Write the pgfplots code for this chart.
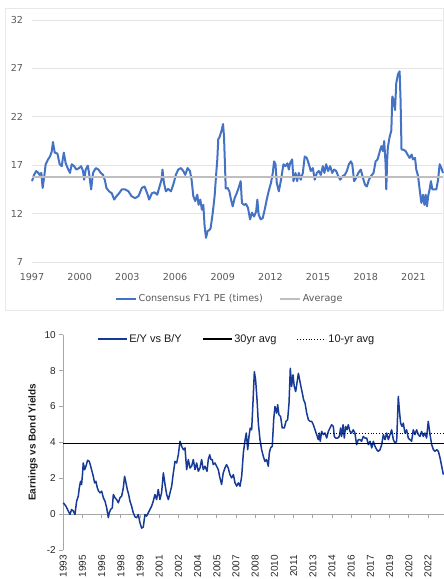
\documentclass[border=0pt]{standalone}
\usepackage{pgfplots}
\pgfplotsset{compat=1.18}
\usepackage{fontspec}
\setmainfont{Liberation Sans}
\newfontfamily\topfont{DejaVu Sans}
\definecolor{pe}{HTML}{4472C4}
\definecolor{avgc}{HTML}{BFBFBF}
\definecolor{gridc}{HTML}{E4E4E4}
\definecolor{txt}{HTML}{595959}
\definecolor{ey}{HTML}{173A96}
\definecolor{axc}{HTML}{A6A6A6}

\pgfplotstableread{
x y
1997.00 15.35
1997.13 16.0
1997.27 16.4
1997.40 16.2
1997.48 16.0
1997.59 16.2
1997.67 14.65
1997.76 15.7
1997.86 17.1
1998.01 17.6
1998.13 17.9
1998.24 18.4
1998.32 19.4
1998.43 18.3
1998.60 18.2
1998.74 17.1
1998.87 16.9
1999.00 18.3
1999.12 17.2
1999.27 16.6
1999.39 16.2
1999.50 17.1
1999.65 16.9
1999.79 16.55
1999.96 16.7
2000.09 16.9
2000.21 16.4
2000.28 15.5
2000.38 16.55
2000.51 16.95
2000.59 16.2
2000.72 14.5
2000.84 16.2
2001.01 16.7
2001.18 16.55
2001.33 16.2
2001.47 16.0
2001.60 15.35
2001.68 14.65
2001.85 14.3
2002.02 14.1
2002.17 13.45
2002.32 13.8
2002.48 14.1
2002.65 14.5
2002.86 14.5
2003.07 14.3
2003.26 13.8
2003.49 13.6
2003.70 13.8
2003.91 14.65
2004.08 14.8
2004.25 14.1
2004.37 13.45
2004.54 14.1
2004.71 14.2
2004.88 13.95
2005.00 14.65
2005.15 15.5
2005.21 16.55
2005.30 15.2
2005.42 14.3
2005.57 14.55
2005.74 14.3
2005.89 15.0
2006.05 16.0
2006.20 16.55
2006.37 16.7
2006.52 16.4
2006.64 16.0
2006.79 16.7
2006.94 16.4
2007.04 15.5
2007.15 13.8
2007.27 13.3
2007.40 13.95
2007.48 12.9
2007.59 13.45
2007.69 12.4
2007.78 12.9
2007.86 10.7
2007.95 9.5
2008.05 10.2
2008.16 10.3
2008.24 10.5
2008.37 12.05
2008.49 13.8
2008.58 15.9
2008.66 17.6
2008.72 19.7
2008.80 19.9
2008.93 20.6
2009.02 21.25
2009.08 20.0
2009.13 17.6
2009.19 14.6
2009.31 14.65
2009.42 14.3
2009.52 13.45
2009.63 12.75
2009.75 13.6
2009.88 14.1
2010.00 14.65
2010.13 15.35
2010.21 13.1
2010.34 12.9
2010.47 13.0
2010.59 12.6
2010.72 11.4
2010.84 12.1
2010.97 11.7
2011.10 12.2
2011.18 13.45
2011.26 11.9
2011.39 11.4
2011.52 11.55
2011.64 12.4
2011.77 13.45
2011.89 14.3
2012.04 15.2
2012.15 16.2
2012.23 17.4
2012.32 17.1
2012.40 15.2
2012.53 14.3
2012.67 15.5
2012.82 17.1
2012.95 16.9
2013.07 17.2
2013.16 16.55
2013.24 17.2
2013.37 17.6
2013.45 15.35
2013.58 16.2
2013.68 15.35
2013.79 16.2
2013.91 15.5
2014.04 16.2
2014.16 17.9
2014.29 17.75
2014.42 17.1
2014.54 16.4
2014.67 16.7
2014.79 15.5
2014.92 16.2
2015.05 16.4
2015.17 16.0
2015.30 16.9
2015.40 16.2
2015.51 17.1
2015.63 16.4
2015.76 16.9
2015.89 16.2
2016.01 16.55
2016.14 16.4
2016.26 15.9
2016.39 15.5
2016.56 15.9
2016.68 16.0
2016.81 16.4
2016.94 17.1
2017.06 17.4
2017.15 17.1
2017.27 15.35
2017.40 15.7
2017.53 16.2
2017.69 16.55
2017.82 15.7
2017.95 15.0
2018.07 14.8
2018.20 15.5
2018.34 15.9
2018.49 16.2
2018.62 17.4
2018.74 17.6
2018.83 18.1
2018.91 18.6
2018.99 18.97
2019.08 18.45
2019.16 19.5
2019.25 17.1
2019.29 14.5
2019.35 17.6
2019.39 18.85
2019.50 19.9
2019.61 20.6
2019.67 24.1
2019.75 23.75
2019.84 22.7
2019.92 25.5
2020.03 26.4
2020.13 26.7
2020.19 23.75
2020.25 18.6
2020.38 18.6
2020.51 18.45
2020.63 18.1
2020.76 17.75
2020.89 18.1
2020.97 17.6
2021.10 17.75
2021.18 16.55
2021.29 15.9
2021.39 14.5
2021.50 13.1
2021.60 13.95
2021.69 12.9
2021.77 13.95
2021.85 12.75
2021.94 13.95
2022.02 14.5
2022.10 15.35
2022.19 14.5
2022.31 14.5
2022.44 14.5
2022.55 15.5
2022.65 17.1
2022.76 16.7
2022.86 16.2
}\petable

\pgfplotstableread{
x y
1993.75 0.63
1993.96 0.44
1994.14 0.17
1994.27 -0.02
1994.40 0.26
1994.53 0.17
1994.66 -0.02
1994.79 0.72
1994.92 1.0
1995.00 1.46
1995.10 1.83
1995.18 1.65
1995.26 2.3
1995.31 2.85
1995.42 2.48
1995.52 2.67
1995.65 3.0
1995.78 2.94
1995.89 2.67
1995.99 2.39
1996.09 2.11
1996.20 1.74
1996.30 1.83
1996.41 1.46
1996.51 1.28
1996.62 1.19
1996.75 1.28
1996.88 0.91
1997.01 0.72
1997.14 0.35
1997.27 -0.2
1997.34 0.07
1997.45 0.26
1997.58 0.35
1997.66 1.09
1997.79 0.91
1997.92 0.81
1998.05 0.63
1998.18 0.91
1998.31 1.0
1998.44 1.46
1998.54 2.11
1998.65 1.74
1998.75 1.37
1998.86 1.09
1998.96 0.72
1999.09 0.44
1999.22 0.07
1999.35 -0.15
1999.48 -0.2
1999.61 -0.02
1999.74 -0.48
1999.87 -0.78
2000.00 -0.72
2000.13 -0.02
2000.26 -0.11
2000.39 0.07
2000.52 0.26
2000.65 0.44
2000.78 0.72
2000.91 1.09
2001.04 0.81
2001.17 1.37
2001.30 0.81
2001.43 1.19
2001.57 2.3
2001.70 1.65
2001.83 1.09
2001.96 0.81
2002.09 1.19
2002.22 1.56
2002.35 2.3
2002.48 2.94
2002.61 2.85
2002.74 3.31
2002.87 4.06
2003.00 3.78
2003.13 3.59
2003.26 3.69
2003.39 2.48
2003.52 3.04
2003.65 2.57
2003.78 2.67
2003.91 3.04
2004.04 2.48
2004.17 2.85
2004.30 2.39
2004.43 2.57
2004.56 3.04
2004.69 2.48
2004.82 2.67
2004.98 2.39
2005.08 3.04
2005.19 3.31
2005.29 3.04
2005.39 3.04
2005.47 2.76
2005.60 2.85
2005.73 2.67
2005.86 2.48
2005.99 2.02
2006.12 1.65
2006.25 2.3
2006.38 2.57
2006.51 2.76
2006.64 2.57
2006.77 2.2
2006.90 2.02
2007.04 2.2
2007.17 1.74
2007.30 1.56
2007.43 1.74
2007.56 1.56
2007.69 2.11
2007.82 3.41
2007.95 4.11
2008.05 4.52
2008.16 3.59
2008.26 4.33
2008.36 4.8
2008.47 4.7
2008.57 6.19
2008.68 7.94
2008.78 7.48
2008.89 6.37
2008.99 5.07
2009.12 4.15
2009.25 3.59
2009.38 3.22
2009.51 2.94
2009.64 3.04
2009.77 2.67
2009.85 3.41
2009.95 3.69
2010.08 3.78
2010.19 5.26
2010.29 6.0
2010.42 5.63
2010.50 6.1
2010.60 5.54
2010.73 5.44
2010.86 4.8
2011.02 4.8
2011.15 5.17
2011.28 5.26
2011.39 6.19
2011.49 8.13
2011.59 7.11
2011.70 7.76
2011.80 7.11
2011.91 6.83
2012.01 7.3
2012.12 7.85
2012.22 7.48
2012.32 7.11
2012.43 6.74
2012.53 6.37
2012.64 6.19
2012.77 5.63
2012.90 5.26
2013.03 5.17
2013.16 5.17
2013.29 4.98
2013.42 4.7
2013.55 4.43
2013.68 4.15
2013.76 4.52
2013.83 4.06
2013.94 4.61
2014.07 4.43
2014.20 4.52
2014.33 4.24
2014.46 4.61
2014.59 4.8
2014.72 4.98
2014.85 4.89
2014.93 4.33
2015.03 4.24
2015.19 4.24
2015.32 4.33
2015.42 4.8
2015.50 4.33
2015.61 4.98
2015.71 4.24
2015.81 4.89
2015.92 4.7
2016.02 4.98
2016.15 4.61
2016.28 4.52
2016.41 4.7
2016.54 4.52
2016.67 3.87
2016.80 4.15
2016.93 4.15
2017.06 4.06
2017.19 4.33
2017.33 4.24
2017.46 4.24
2017.59 3.87
2017.72 4.06
2017.85 3.69
2017.98 4.06
2018.11 3.78
2018.24 3.59
2018.37 3.5
2018.50 3.59
2018.63 3.87
2018.76 4.43
2018.89 4.15
2019.02 4.52
2019.15 4.15
2019.28 4.43
2019.41 4.7
2019.54 4.15
2019.67 3.96
2019.80 4.06
2019.93 6.56
2020.01 5.81
2020.11 5.07
2020.22 4.89
2020.32 5.07
2020.45 4.52
2020.58 4.7
2020.71 4.24
2020.84 4.15
2020.97 4.06
2021.10 4.7
2021.23 4.43
2021.36 4.7
2021.49 4.43
2021.62 4.33
2021.75 4.61
2021.88 4.33
2022.01 4.52
2022.14 4.24
2022.27 5.17
2022.41 4.43
2022.54 3.87
2022.67 3.59
2022.80 3.5
2022.93 3.59
2023.06 3.5
2023.19 3.13
2023.32 2.67
2023.45 2.2
}\eytable

\begin{document}
\begin{tikzpicture}
\useasboundingbox (0pt,0pt) rectangle (444pt,579pt);
\draw[gray!18, line width=0.8pt] (5pt,269pt) rectangle (443.6pt,571pt);

% ---------- top chart ----------
\begin{axis}[
  at={(32pt,317pt)}, anchor=south west, scale only axis,
  width=411pt, height=242pt,
  xmin=1997, xmax=2022.86, ymin=7, ymax=32,
  axis line style={draw=none},
  ytick={7,12,17,22,27,32},
  xtick={1997,2000,2003,2006,2009,2012,2015,2018,2021},
  x tick label style={/pgf/number format/1000 sep={}, yshift=-8pt},
  y tick label style={xshift=-5.5pt},
  major tick length=0pt,
  ymajorgrids, grid style={gridc, line width=0.9pt},
  tick label style={font=\topfont\fontsize{9.6}{10}\selectfont, text=txt},
  /pgf/number format/assume math mode=true,
  legend style={at={(0.4805,-0.153)}, anchor=center, draw=none, fill=none,
    font=\topfont\fontsize{9.6}{10}\selectfont, text=txt, legend columns=2,
    /tikz/every even column/.append style={column sep=14pt},
    inner sep=0pt},
  legend cell align=left,
  legend image code/.code={\draw[#1] (0pt,0pt) -- (20pt,0pt);},
  clip=false,
]
\addplot[pe, line width=2pt, line join=round] table[x=x,y=y] {\petable};
\addlegendentry{Consensus FY1 PE (times)}
\addplot[avgc, line width=2pt] coordinates {(1997,15.8) (2022.86,15.8)};
\addlegendentry{Average}
\end{axis}

% ---------- bottom chart ----------
\begin{axis}[
  at={(63.3pt,29pt)}, anchor=south west, scale only axis,
  width=380.7pt, height=215.3pt,
  xmin=1993.75, xmax=2023.5, ymin=-2, ymax=10,
  axis y line*=left, axis x line*=bottom,
  x axis line style={draw=none},
  y axis line style={axc, line width=0.8pt},
  ytick={-2,0,2,4,6,8,10},
  ytick style={axc, line width=0.8pt},
  xtick style={draw=none},
  tick align=outside, major tick length=4pt,
  xtick={1993.75,1995.25,1996.75,1998.25,1999.75,2001.25,2002.75,2004.25,2005.75,2007.25,2008.75,2010.25,2011.75,2013.25,2014.75,2016.25,2017.75,2019.25,2020.75,2022.25},
  xticklabels={1993,1995,1996,1998,1999,2001,2002,2004,2005,2007,2008,2010,2011,2013,2014,2016,2017,2019,2020,2022},
  x tick label style={rotate=90, anchor=east, inner sep=1pt},
  tick label style={font=\fontsize{10}{11}\selectfont, text=black!85},
  /pgf/number format/assume math mode=true,
  ylabel={Earnings vs Bond Yields},
  ylabel style={font=\bfseries\fontsize{10}{12}\selectfont, text=black!90},
  legend style={at={(0.455,0.98)}, anchor=center, draw=none, fill=none,
    font=\fontsize{11}{12}\selectfont, text=black!90, legend columns=3,
    /tikz/every even column/.append style={column sep=18pt}, inner sep=0pt},
  legend image code/.code={\draw[#1] (0pt,0pt) -- (29pt,0pt);},
  clip=false,
]
\draw[axc, line width=0.8pt] (axis cs:1993.75,0) -- (axis cs:2023.5,0);
\pgfplotsinvokeforeach{1995.25,1996.75,1998.25,1999.75,2001.25,2002.75,2004.25,2005.75,2007.25,2008.75,2010.25,2011.75,2013.25,2014.75,2016.25,2017.75,2019.25,2020.75,2022.25}{
  \draw[axc, line width=0.8pt] (axis cs:#1,0) -- ++(0pt,-4pt);
}
\addplot[ey, line width=1.5pt, line join=round] table[x=x,y=y] {\eytable};
\addlegendentry{E/Y vs B/Y}
\addplot[black, line width=1.5pt] coordinates {(1993.75,3.93) (2023.5,3.93)};
\addlegendentry{30yr avg}
\addplot[black, line width=0.9pt, dotted] coordinates {(2013.68,4.52) (2023.5,4.52)};
\addlegendentry{10-yr avg}
\end{axis}
\end{tikzpicture}
\end{document}
